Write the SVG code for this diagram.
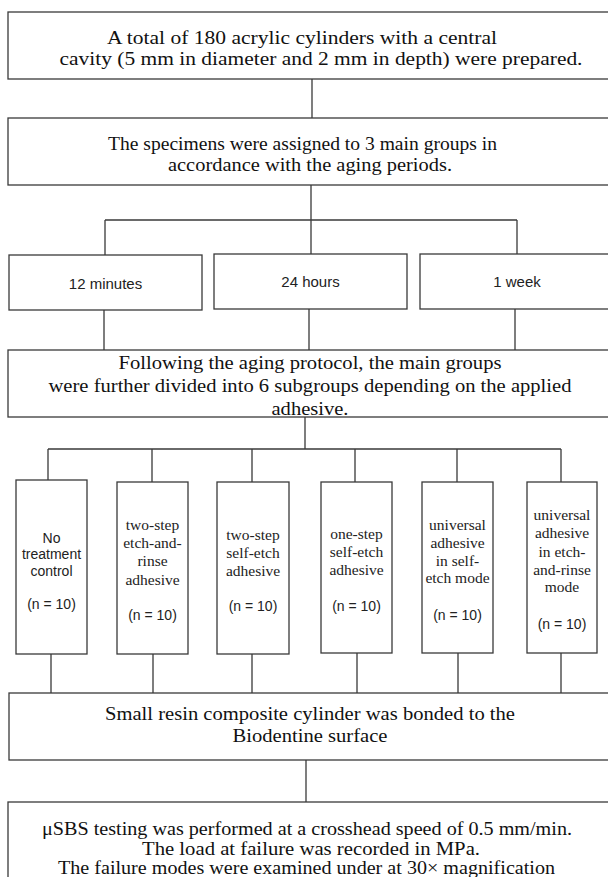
<svg xmlns="http://www.w3.org/2000/svg" width="608" height="877" viewBox="0 0 608 877">
<style>
  .box { fill: #ffffff; stroke: #3a3a3a; stroke-width: 1.3; }
  .conn { fill: none; stroke: #3a3a3a; stroke-width: 1.3; }
  .big { font-family: "Liberation Serif", "Times New Roman", serif; font-size: 18px; fill: #111; text-anchor: middle; }
  .ser { font-family: "Liberation Serif", "Times New Roman", serif; font-size: 15.5px; fill: #222; text-anchor: middle; }
  .sans { font-family: "Liberation Sans", Arial, sans-serif; font-size: 14px; fill: #222; text-anchor: middle; }
  .time { font-family: "Liberation Sans", Arial, sans-serif; font-size: 15px; fill: #222; text-anchor: middle; }
</style>
<rect width="608" height="877" fill="#ffffff"/>

<g id="connectors">
  <path class="conn" d="M312 79 V118"/>
  <path class="conn" d="M311 185 V220 M105 220 H517 M105 220 V255 M311 220 V254 M517 220 V254"/>
  <path class="conn" d="M104 310 V350 M309 309 V350 M515 309 V350"/>
  <path class="conn" d="M305 417 V449 M48 449 H561 M48 449 V480 M152 449 V482 M252 449 V482 M355 449 V482 M457 449 V482 M561 449 V482"/>
  <path class="conn" d="M51 654 V693 M153 654 V693 M252 654 V693 M357 653 V693 M458 653 V693 M561 653 V693"/>
  <path class="conn" d="M306 760 V802"/>
</g>

<g id="n1">
  <rect class="box" x="8" y="12" width="604" height="67"/>
  <text class="big" x="302" y="44" textLength="390" lengthAdjust="spacingAndGlyphs">A total of 180 acrylic cylinders with a central</text>
  <text class="big" x="321" y="65" textLength="523" lengthAdjust="spacingAndGlyphs">cavity (5 mm in diameter and 2 mm in depth) were prepared.</text>
</g>

<g id="n2">
  <rect class="box" x="8" y="118" width="604" height="67"/>
  <text class="big" x="302.5" y="150" textLength="389" lengthAdjust="spacingAndGlyphs">The specimens were assigned to 3 main groups in</text>
  <text class="big" x="310" y="171" textLength="284" lengthAdjust="spacingAndGlyphs">accordance with the aging periods.</text>
</g>

<g id="t1">
  <rect class="box" x="9" y="255" width="193" height="55"/>
  <text class="time" x="105.5" y="289">12 minutes</text>
</g>
<g id="t2">
  <rect class="box" x="214" y="254" width="193" height="55"/>
  <text class="time" x="310.5" y="287">24 hours</text>
</g>
<g id="t3">
  <rect class="box" x="420" y="254" width="194" height="55"/>
  <text class="time" x="517" y="287">1 week</text>
</g>

<g id="n3">
  <rect class="box" x="8" y="350" width="604" height="67"/>
  <text class="big" x="310" y="369" textLength="383" lengthAdjust="spacingAndGlyphs">Following the aging protocol, the main groups</text>
  <text class="big" x="310" y="392" textLength="523" lengthAdjust="spacingAndGlyphs">were further divided into 6 subgroups depending on the applied</text>
  <text class="big" x="310" y="415" textLength="77" lengthAdjust="spacingAndGlyphs">adhesive.</text>
</g>

<g id="s1">
  <rect class="box" x="16" y="480" width="71" height="174"/>
  <text class="sans" x="51.5" y="543">No</text>
  <text class="sans" x="51.5" y="559">treatment</text>
  <text class="sans" x="51.5" y="576">control</text>
  <text class="sans" x="51.5" y="609">(n = 10)</text>
</g>
<g id="s2">
  <rect class="box" x="117" y="482" width="71" height="172"/>
  <text class="ser" x="152.5" y="530">two-step</text>
  <text class="ser" x="152.5" y="548">etch-and-</text>
  <text class="ser" x="152.5" y="566">rinse</text>
  <text class="ser" x="152.5" y="585">adhesive</text>
  <text class="sans" x="152.5" y="620">(n = 10)</text>
</g>
<g id="s3">
  <rect class="box" x="217" y="482" width="72" height="172"/>
  <text class="ser" x="253" y="540">two-step</text>
  <text class="ser" x="253" y="558">self-etch</text>
  <text class="ser" x="253" y="576">adhesive</text>
  <text class="sans" x="253" y="611">(n = 10)</text>
</g>
<g id="s4">
  <rect class="box" x="321" y="482" width="71" height="171"/>
  <text class="ser" x="356.5" y="539">one-step</text>
  <text class="ser" x="356.5" y="557">self-etch</text>
  <text class="ser" x="356.5" y="575">adhesive</text>
  <text class="sans" x="356.5" y="611">(n = 10)</text>
</g>
<g id="s5">
  <rect class="box" x="422" y="482" width="71" height="171"/>
  <text class="ser" x="457.5" y="530">universal</text>
  <text class="ser" x="457.5" y="548">adhesive</text>
  <text class="ser" x="457.5" y="566">in self-</text>
  <text class="ser" x="457.5" y="583">etch mode</text>
  <text class="sans" x="457.5" y="620">(n = 10)</text>
</g>
<g id="s6">
  <rect class="box" x="527" y="482" width="70" height="171"/>
  <text class="ser" x="562" y="520">universal</text>
  <text class="ser" x="562" y="538">adhesive</text>
  <text class="ser" x="562" y="557">in etch-</text>
  <text class="ser" x="562" y="575">and-rinse</text>
  <text class="ser" x="562" y="592">mode</text>
  <text class="sans" x="562" y="629">(n = 10)</text>
</g>

<g id="n5">
  <rect class="box" x="9" y="693" width="603" height="67"/>
  <text class="big" x="310" y="720" textLength="410" lengthAdjust="spacingAndGlyphs">Small resin composite cylinder was bonded to the</text>
  <text class="big" x="310" y="742" textLength="155" lengthAdjust="spacingAndGlyphs">Biodentine surface</text>
</g>

<g id="n6">
  <rect class="box" x="8" y="802" width="604" height="90"/>
  <text class="big" x="307" y="835" textLength="530" lengthAdjust="spacingAndGlyphs">μSBS testing was performed at a crosshead speed of 0.5 mm/min.</text>
  <text class="big" x="311" y="855" textLength="338" lengthAdjust="spacingAndGlyphs">The load at failure was recorded in MPa.</text>
  <text class="big" x="306.5" y="874" textLength="497" lengthAdjust="spacingAndGlyphs">The failure modes were examined under at 30× magnification</text>
</g>
</svg>
